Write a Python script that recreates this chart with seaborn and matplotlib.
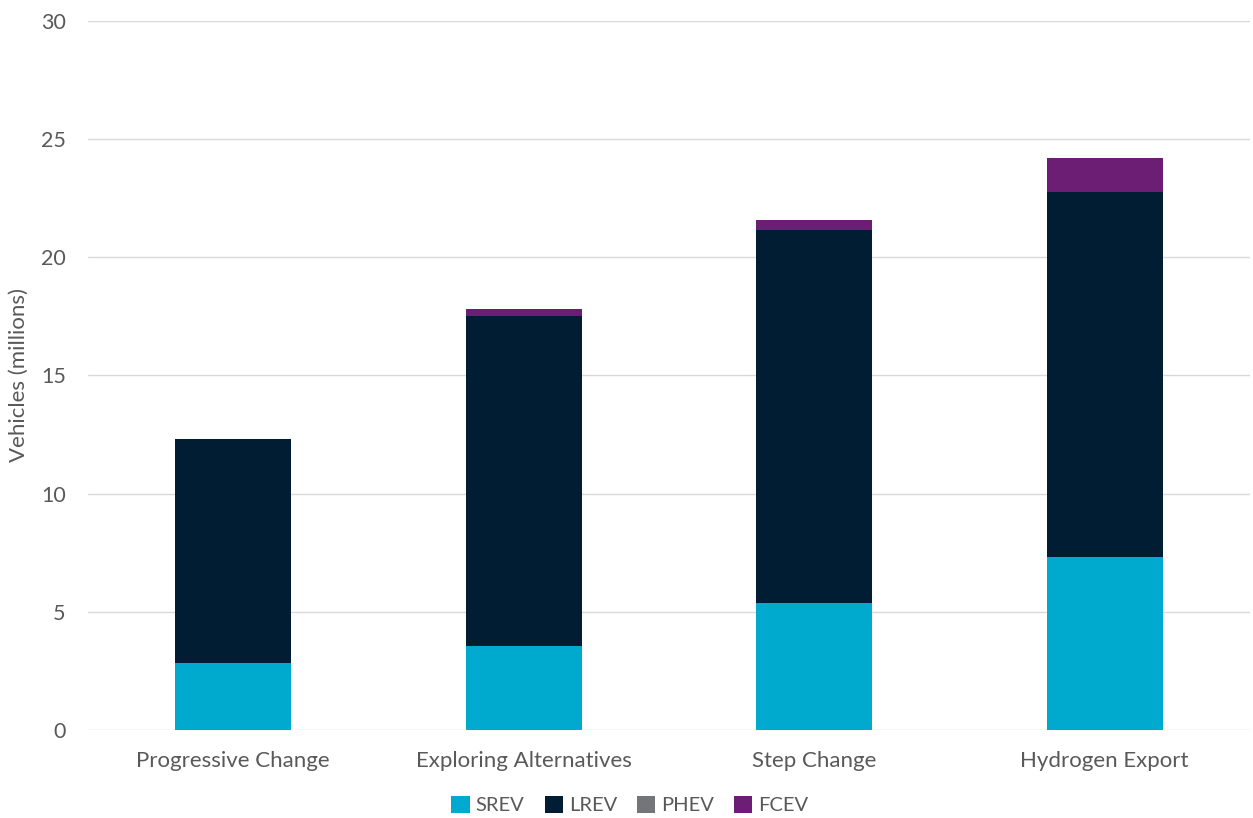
import numpy as np
import pandas as pd
import matplotlib
matplotlib.use("Agg")
import matplotlib.pyplot as plt
from matplotlib.patches import Patch
import seaborn as sns

# Electric vehicle fleet by scenario (millions of vehicles)
scenarios = ["Progressive Change", "Exploring Alternatives", "Step Change", "Hydrogen Export"]
srev = [2.84, 3.55, 5.37, 7.32]
lrev = [9.49, 13.98, 15.80, 15.43]
phev = [0.0, 0.0, 0.0, 0.0]
fcev = [0.0, 0.29, 0.40, 1.44]

series_names = ["SREV", "LREV", "PHEV", "FCEV"]
series_colors = ["#00A9CE", "#001D33", "#747578", "#6C1D74"]

sns.set_theme(style="white")
plt.rcParams["font.family"] = ["Lato", "DejaVu Sans"]

df = pd.DataFrame({"scenario": scenarios, "SREV": srev, "LREV": lrev,
                   "PHEV": phev, "FCEV": fcev})
cum = df[series_names].cumsum(axis=1)

fig = plt.figure(figsize=(12.53, 8.18), dpi=100)
ax = fig.add_axes([88 / 1253, 1 - 730 / 818, 1162 / 1253, 709 / 818])

# Stacked bars: draw cumulative totals from the top layer down
for name, color in reversed(list(zip(series_names, series_colors))):
    sns.barplot(data=cum.assign(scenario=df["scenario"]), x="scenario", y=name,
                order=scenarios, color=color, width=0.4, saturation=1,
                linewidth=0, ax=ax, zorder=3)

ax.set_ylim(0, 30)
ax.set_yticks(np.arange(0, 31, 5))
ax.set_xlim(-0.5, len(scenarios) - 0.5)
ax.grid(axis="y", color="#D9D9D9", linewidth=1, zorder=0)
ax.grid(axis="x", visible=False)
for s in ax.spines.values():
    s.set_visible(False)
ax.tick_params(axis="both", length=0, colors="#595959")
ax.tick_params(axis="x", pad=15, labelsize=16)
ax.tick_params(axis="y", pad=16, labelsize=15.5)
ax.set_xlabel("")
ax.set_ylabel("Vehicles (millions)", fontsize=16, color="#595959")
ax.yaxis.set_label_coords(-59 / 1162, 0.5)

handles = [Patch(facecolor=c, edgecolor="none", label=n)
           for n, c in zip(series_names, series_colors)]
fig.legend(handles=handles, loc="center", bbox_to_anchor=(630 / 1253, 1 - 805 / 818),
           ncol=4, frameon=False, fontsize=14.5, labelcolor="#595959",
           handlelength=0.9, handleheight=0.9, handletextpad=0.3, columnspacing=1.0)

fig.savefig("out.png", dpi=100)
